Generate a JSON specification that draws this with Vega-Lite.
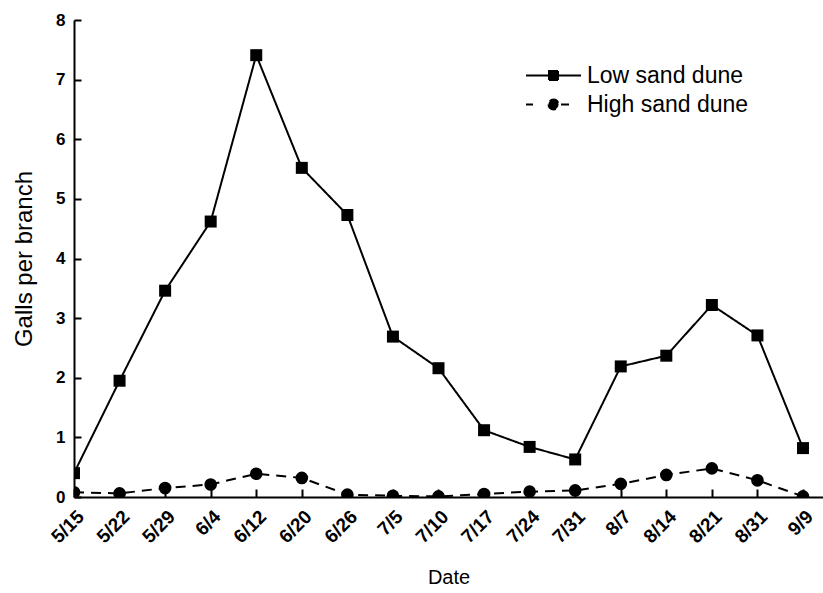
{
  "$schema": "https://vega.github.io/schema/vega-lite/v6.json",
  "width": 749,
  "height": 477,
  "autosize": {"type": "none"},
  "padding": {"left": 74, "top": 20, "right": 0, "bottom": 96},
  "background": "white",
  "config": {
    "view": {"stroke": null},
    "font": "Liberation Sans",
    "axis": {
      "grid": false,
      "domainColor": "black",
      "domainWidth": 2,
      "tickColor": "black",
      "tickWidth": 2,
      "labelColor": "black",
      "labelFont": "Liberation Sans",
      "labelFontWeight": "bold",
      "labelFontSize": 16,
      "titleColor": "black",
      "titleFont": "Liberation Sans",
      "titleFontWeight": "normal",
      "titleFontSize": 20
    }
  },
  "data": {
    "values": [
      {"date": "5/15", "series": "Low sand dune", "value": 0.40},
      {"date": "5/22", "series": "Low sand dune", "value": 1.95},
      {"date": "5/29", "series": "Low sand dune", "value": 3.46},
      {"date": "6/4", "series": "Low sand dune", "value": 4.62},
      {"date": "6/12", "series": "Low sand dune", "value": 7.41},
      {"date": "6/20", "series": "Low sand dune", "value": 5.52},
      {"date": "6/26", "series": "Low sand dune", "value": 4.73},
      {"date": "7/5", "series": "Low sand dune", "value": 2.69},
      {"date": "7/10", "series": "Low sand dune", "value": 2.16},
      {"date": "7/17", "series": "Low sand dune", "value": 1.12},
      {"date": "7/24", "series": "Low sand dune", "value": 0.84},
      {"date": "7/31", "series": "Low sand dune", "value": 0.63},
      {"date": "8/7", "series": "Low sand dune", "value": 2.19},
      {"date": "8/14", "series": "Low sand dune", "value": 2.37},
      {"date": "8/21", "series": "Low sand dune", "value": 3.22},
      {"date": "8/31", "series": "Low sand dune", "value": 2.71},
      {"date": "9/9", "series": "Low sand dune", "value": 0.82},
      {"date": "5/15", "series": "High sand dune", "value": 0.08},
      {"date": "5/22", "series": "High sand dune", "value": 0.06},
      {"date": "5/29", "series": "High sand dune", "value": 0.15},
      {"date": "6/4", "series": "High sand dune", "value": 0.21},
      {"date": "6/12", "series": "High sand dune", "value": 0.39},
      {"date": "6/20", "series": "High sand dune", "value": 0.32},
      {"date": "6/26", "series": "High sand dune", "value": 0.04},
      {"date": "7/5", "series": "High sand dune", "value": 0.02},
      {"date": "7/10", "series": "High sand dune", "value": 0.01},
      {"date": "7/17", "series": "High sand dune", "value": 0.05},
      {"date": "7/24", "series": "High sand dune", "value": 0.09},
      {"date": "7/31", "series": "High sand dune", "value": 0.11},
      {"date": "8/7", "series": "High sand dune", "value": 0.22},
      {"date": "8/14", "series": "High sand dune", "value": 0.37},
      {"date": "8/21", "series": "High sand dune", "value": 0.48},
      {"date": "8/31", "series": "High sand dune", "value": 0.28},
      {"date": "9/9", "series": "High sand dune", "value": 0.01}
    ]
  },
  "encoding": {
    "x": {
      "field": "date",
      "type": "ordinal",
      "sort": null,
      "scale": {"type": "point", "padding": 0.2195, "align": 0},
      "axis": {"title": "Date", "labelAngle": -45, "tickSize": -8, "labelFontSize": 19, "labelPadding": 18, "titlePadding": 21}
    },
    "y": {
      "field": "value",
      "type": "quantitative",
      "scale": {"domain": [0, 8], "nice": false, "zero": true},
      "axis": {"title": "Galls per branch", "titleFontSize": 24, "labelFontSize": 17, "values": [0,1,2,3,4,5,6,7,8], "tickSize": -7, "labelPadding": 16, "titlePadding": 19}
    }
  },
  "layer": [
    {
      "mark": {"type": "line", "color": "black", "strokeWidth": 2, "clip": true},
      "encoding": {
        "strokeDash": {
          "field": "series",
          "type": "nominal",
          "scale": {"domain": ["Low sand dune", "High sand dune"], "range": [[1, 0], [10, 7]]},
          "legend": {
            "title": null,
            "orient": "none",
            "legendX": 468,
            "legendY": 44,
            "padding": 0,
            "symbolSize": 400,
            "symbolStrokeWidth": 2,
            "symbolStrokeColor": "black",
            "symbolFillColor": "black",
            "labelFont": "Liberation Sans",
            "labelFontSize": 23,
            "labelLimit": 400,
            "labelColor": "black",
            "labelOffset": 22,
            "rowPadding": 5,
            "encode": {
              "symbols": {
                "update": {
                  "shape": {"signal": "datum.value === 'Low sand dune' ? 'M-2.75,0H2.75M-0.45,-0.45H0.45V0.45H-0.45Z' : 'M-2.75,0H-2.05M0.75,0H1.55M-0.5,0A0.5,0.5 0 1,0 0.5,0A0.5,0.5 0 1,0 -0.5,0Z'"},
                  "strokeDash": {"value": [1, 0]},
                  "fill": {"value": "black"},
                  "stroke": {"value": "black"},
                  "strokeWidth": {"value": 2},
                  "size": {"value": 400}
                }
              }
            }
          }
        }
      }
    },
    {
      "transform": [{"filter": "datum.series === 'Low sand dune'"}],
      "mark": {"type": "point", "shape": "square", "filled": true, "color": "black", "opacity": 1, "size": 144, "clip": true}
    },
    {
      "transform": [{"filter": "datum.series === 'High sand dune'"}],
      "mark": {"type": "point", "shape": "circle", "filled": true, "color": "black", "opacity": 1, "size": 160, "clip": true}
    }
  ]
}
